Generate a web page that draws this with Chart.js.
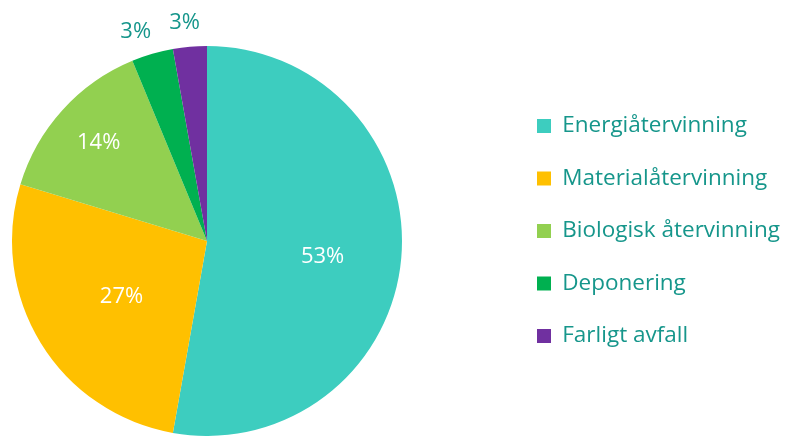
<!DOCTYPE html>
<html>
<head>
<meta charset="utf-8">
<script src="https://cdn.jsdelivr.net/npm/chart.js@4"></script>
<style>
  html, body { margin: 0; padding: 0; background: #fff; }
  #wrap { width: 787px; height: 436px; }
</style>
</head>
<body>
<div id="wrap"><canvas id="pie-chart" width="787" height="436"></canvas></div>
<script>
const categories = [
  "Energiåtervinning",
  "Materialåtervinning",
  "Biologisk återvinning",
  "Deponering",
  "Farligt avfall",
];
const shares = [52.8, 26.9, 14.05, 3.45, 2.8];
const valueLabels = ["53%", "27%", "14%", "3%", "3%"];

const colors = ["#3dcdbf", "#ffc000", "#92d050", "#00b050", "#7030a0"];
const textTeal = "#16968b";
const font = "'Open Sans', sans-serif";

// where each percent label sits: fraction of the radius, then a small pixel nudge
const labelRadius = [0.59, 0.52, 0.75, 1.12, 1.13];
const labelNudge = [[1, 6], [1, 3], [0, 0], [-10, 0], [-3, 1]];
const labelColor = ["#fff", "#fff", "#fff", textTeal, textTeal];

// pie sits on the left, legend on the right
const placePie = {
  id: "placePie",
  afterLayout(chart) {
    const ca = chart.chartArea;
    ca.left = 12;
    ca.right = 402;
    ca.width = ca.right - ca.left;
    const lg = chart.legend;
    const dx = 507 - lg.left;
    lg.left += dx;
    lg.right += dx;
    lg.top -= 10;
    lg.bottom -= 10;
  },
};

const sliceLabels = {
  id: "sliceLabels",
  afterDatasetsDraw(chart) {
    const ctx = chart.ctx;
    const arcs = chart.getDatasetMeta(0).data;
    ctx.save();
    ctx.font = "22px " + font;
    ctx.textAlign = "center";
    ctx.textBaseline = "middle";
    arcs.forEach(function (arc, i) {
      const mid = (arc.startAngle + arc.endAngle) / 2;
      const r = arc.outerRadius * labelRadius[i];
      ctx.fillStyle = labelColor[i];
      ctx.fillText(
        valueLabels[i],
        arc.x + Math.cos(mid) * r + labelNudge[i][0],
        arc.y + Math.sin(mid) * r + labelNudge[i][1]
      );
    });
    ctx.restore();
  },
};

new Chart(document.getElementById("pie-chart").getContext("2d"), {
  type: "pie",
  data: {
    labels: categories,
    datasets: [
      {
        data: shares,
        backgroundColor: colors,
        borderWidth: 0,
      },
    ],
  },
  options: {
    animation: false,
    responsive: false,
    layout: { padding: { top: 46, bottom: 0, left: 0, right: 0 } },
    plugins: {
      legend: {
        position: "right",
        labels: {
          color: textTeal,
          font: { family: font, size: 22.5 },
          boxWidth: 14,
          boxHeight: 14,
          padding: 30,
        },
      },
      tooltip: { enabled: false },
    },
  },
  plugins: [placePie, sliceLabels],
});
</script>
</body>
</html>
